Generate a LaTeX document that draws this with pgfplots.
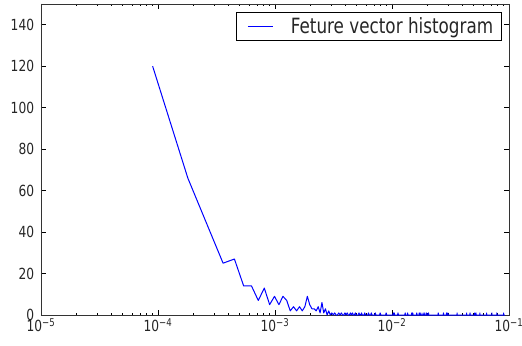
\documentclass[border=0pt]{standalone}
\usepackage{fontspec}
\setmainfont{DejaVu Sans}[FakeStretch=0.8]
\usepackage{pgfplots}
\pgfplotsset{compat=1.18}
\usetikzlibrary{calc}
\begin{document}
\begin{tikzpicture}
\begin{axis}[
  name=ax,
  at={(0,0)}, anchor=south west,
  scale only axis,
  width=468pt, height=311pt,
  xmode=log,
  xmin=1e-5, xmax=1e-1,
  ymin=0, ymax=150,
  xtick={1e-5,1e-4,1e-3,1e-2,1e-1},
  xticklabels={10\textsuperscript{−5},10\textsuperscript{−4},10\textsuperscript{−3},10\textsuperscript{−2},10\textsuperscript{−1}},
  ytick={0,20,40,60,80,100,120,140},
  /pgf/number format/assume math mode=true,
  tick label style={font=\fontsize{15.3}{17}\selectfont, text=black!85},
  xticklabel style={inner sep=0pt, anchor=north, yshift=-3pt},
  yticklabel style={inner sep=0pt, anchor=east, xshift=-6.7pt},
  tick align=inside,
  major tick length=5pt,
  minor tick length=2.5pt,
  every tick/.style={black, line width=0.6pt},
  axis line style={black!80, line width=0.8pt},
  clip=false,
  legend style={
    at={(0.985,0.974)}, anchor=north east,
    draw=black, line width=0.8pt,
    inner xsep=0pt, inner ysep=5pt,
    font=\fontsize{21}{23}\selectfont,
    text=black!85,
    nodes={inner sep=0pt},
  },
  legend image code/.code={
    \path[draw=none] (0pt,0pt) -- (11pt,0pt);
    \draw[#1] (11pt,0pt) -- (36pt,0pt);
    \path[draw=none] (36pt,0pt) -- (54pt,0pt);
  },
  legend cell align=left,
]
\addplot[color=blue, line width=1pt, line join=round] coordinates {
(0.00009,120) (0.00018,66) (0.00027,42) (0.00036,25) (0.00045,27)
(0.00054,14) (0.00063,14) (0.00072,7) (0.00081,13) (0.0009,5)
(0.00099,9) (0.00108,5) (0.00117,9) (0.00126,7) (0.00135,2)
(0.00144,4) (0.00153,2) (0.00162,4) (0.00171,2) (0.0018,4)
(0.00189,9) (0.00198,5) (0.00207,3) (0.00216,3) (0.00225,2)
(0.00234,4) (0.00243,1) (0.00252,6) (0.00261,1) (0.0027,3)
(0.00279,0) (0.00288,2) (0.00297,0) (0.00306,1) (0.00315,0)
(0.00324,1) (0.00333,0) (0.00342,0) (0.00351,1) (0.0036,0)
(0.00369,1) (0.00378,0) (0.00387,0) (0.00396,1) (0.00405,0)
(0.00414,1) (0.00423,0) (0.00432,0) (0.00441,1) (0.0045,0)
(0.00459,1) (0.00468,0) (0.00477,0) (0.00486,1) (0.00495,0)
(0.00513,0) (0.00522,1) (0.00531,0)
(0.0054,0) (0.00549,1) (0.00558,0)
(0.00576,0) (0.00585,1) (0.00594,0)
(0.00621,0) (0.0063,1) (0.00639,0)
(0.00657,0) (0.00666,1) (0.00675,0)
(0.00711,0) (0.0072,1) (0.00729,0)
(0.00783,0) (0.00792,1) (0.00801,0)
(0.00882,0) (0.00891,1) (0.009,0)
(0.01017,0) (0.01026,1) (0.01035,0) (0.01044,1) (0.01053,0)
(0.01116,0) (0.01125,1) (0.01134,0)
(0.01287,0) (0.01296,1) (0.01305,0)
(0.0135,0) (0.01359,1) (0.01368,0)
(0.01467,0) (0.01476,1) (0.01485,0)
(0.01494,0) (0.01503,1) (0.01512,0)
(0.0162,0) (0.01629,1) (0.01638,0)
(0.01701,0) (0.0171,1) (0.01719,0)
(0.01755,0) (0.01764,1) (0.01773,0)
(0.01836,0) (0.01845,1) (0.01854,0)
(0.01899,0) (0.01908,1) (0.01917,0)
(0.01971,0) (0.0198,1) (0.01989,0)
(0.02043,0) (0.02052,1) (0.02061,0)
(0.02475,0) (0.02484,1) (0.02493,0)
(0.02745,0) (0.02754,1) (0.02763,0)
(0.02916,0) (0.02925,1) (0.02934,0)
(0.02997,0) (0.03006,1) (0.03015,0)
(0.03591,0) (0.036,1) (0.03609,0)
(0.04338,0) (0.04347,1) (0.04356,0)
(0.04635,0) (0.04644,1) (0.04653,0)
(0.05076,0) (0.05085,1) (0.05094,0)
(0.05211,0) (0.0522,1) (0.05229,0)
(0.05634,0) (0.05643,1) (0.05652,0)
(0.06435,0) (0.06444,1) (0.06453,0)
(0.07137,0) (0.07146,1) (0.07155,0)
(0.07857,0) (0.07866,1) (0.07875,0)
(0.08991,0) (0.09,1) (0.09009,0)
(0.09225,0)
};
\addlegendentry{Feture vector histogram\rule{8.4pt}{0pt}}
\end{axis}
\pgfresetboundingbox
\path[use as bounding box] ($(ax.south west)+(-41pt,-30pt)$) rectangle ($(ax.north east)+(13pt,4pt)$);
\end{tikzpicture}
\end{document}
